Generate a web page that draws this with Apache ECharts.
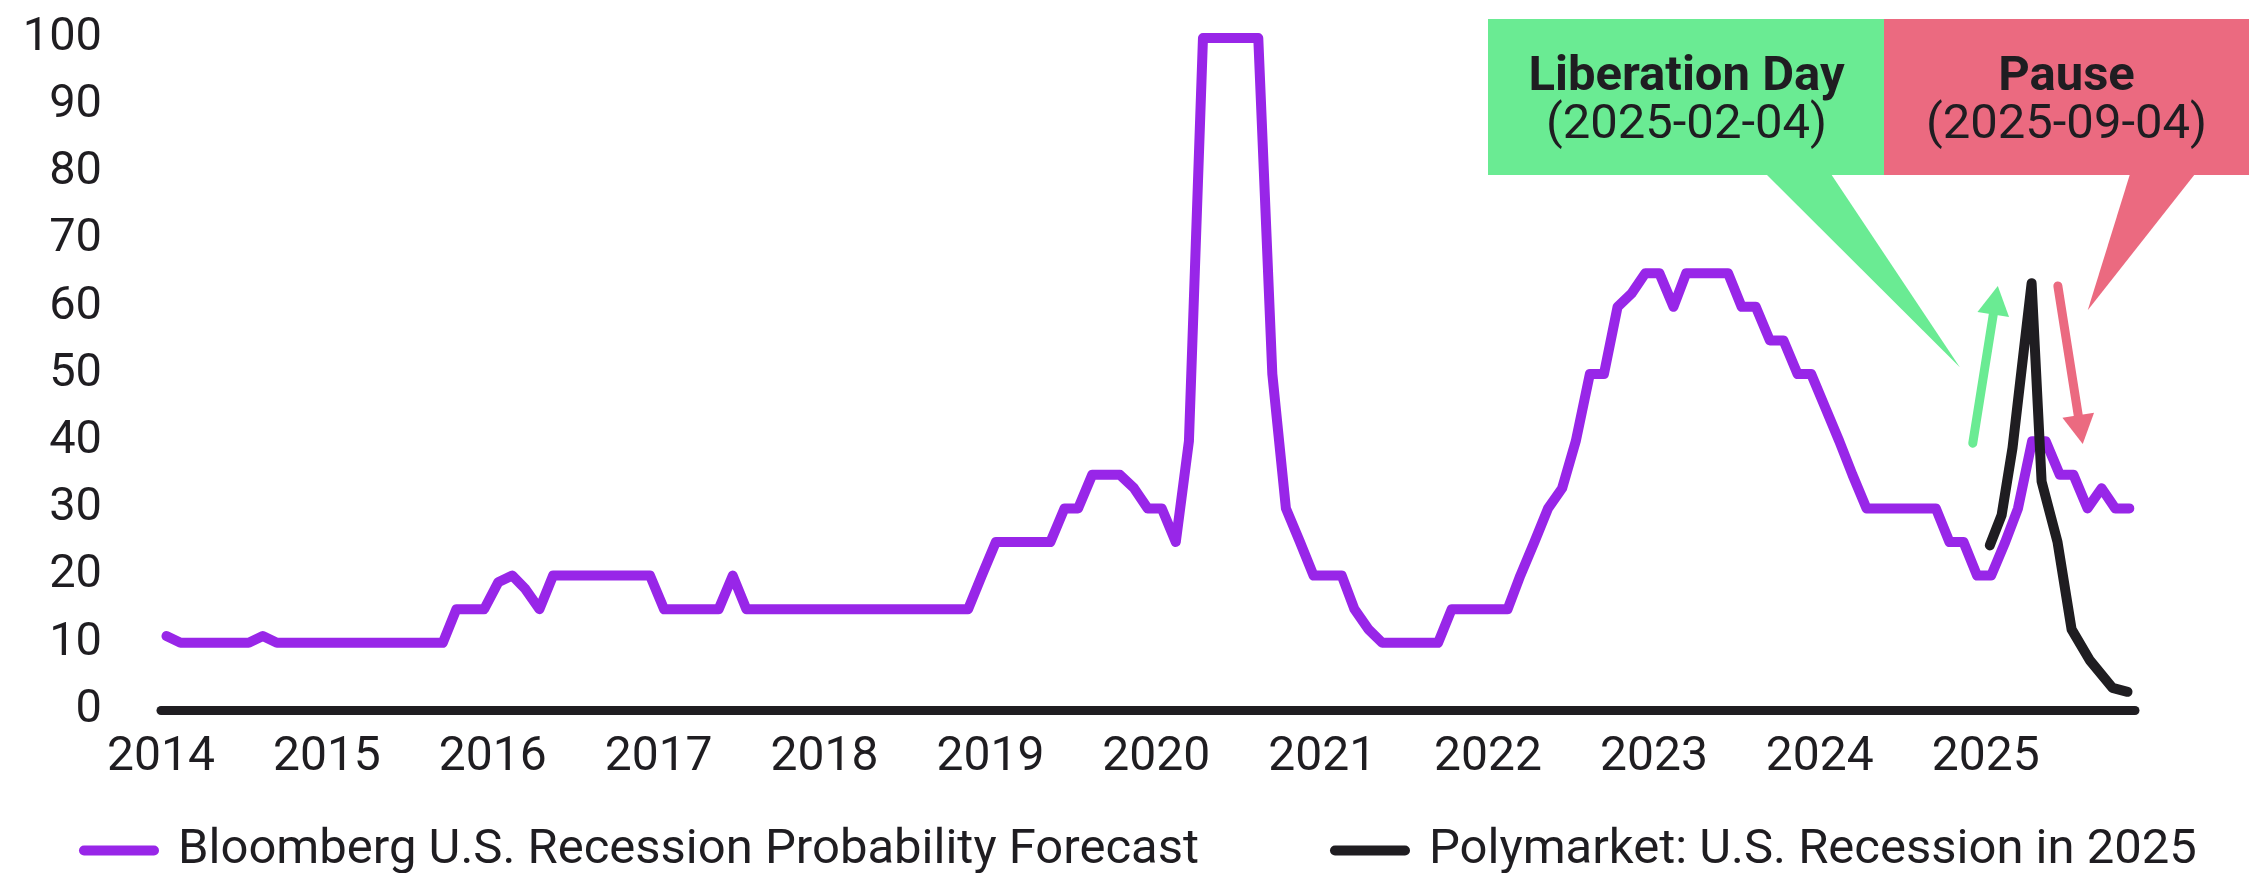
<!DOCTYPE html>
<html>
<head>
<meta charset="utf-8">
<script src="https://cdn.jsdelivr.net/npm/echarts@6/dist/echarts.min.js"></script>
<style>
  html, body { margin: 0; padding: 0; background: #fff; }
  #chart { width: 2249px; height: 873px; }
</style>
</head>
<body>
<div id="chart"></div>
<script>
// Bloomberg U.S. recession probability survey, monthly from Jan 2014 to Nov 2025
const bbgName = 'Bloomberg U.S. Recession Probability Forecast';
const bbgStart = [2014, 1];
const bbgValues = [
  11, 10, 10, 10, 10, 10, 10, 11, 10, 10, 10, 10,   // 2014
  10, 10, 10, 10, 10, 10, 10, 10, 10, 15, 15, 15,   // 2015
  19, 20, 18, 15, 20, 20, 20, 20, 20, 20, 20, 20,   // 2016
  15, 15, 15, 15, 15, 20, 15, 15, 15, 15, 15, 15,   // 2017
  15, 15, 15, 15, 15, 15, 15, 15, 15, 15, 15, 20,   // 2018
  25, 25, 25, 25, 25, 30, 30, 35, 35, 35, 33, 30,   // 2019
  30, 25, 40, 100, 100, 100, 100, 100, 50, 30, 25, 20, // 2020
  20, 20, 15, 12, 10, 10, 10, 10, 10, 15, 15, 15,   // 2021
  15, 15, 20, 25, 30, 33, 40, 50, 50, 60, 62, 65,   // 2022
  65, 60, 65, 65, 65, 65, 60, 60, 55, 55, 50, 50,   // 2023
  45, 40, 35, 30, 30, 30, 30, 30, 30, 25, 25, 20,   // 2024
  20, 25, 30, 40, 40, 35, 35, 30, 33, 30, 30        // 2025
];

// Polymarket: U.S. recession in 2025
const polyName = 'Polymarket: U.S. Recession in 2025';
const polyDates = ['2025-01-10', '2025-02-05', '2025-03-01', '2025-04-12', '2025-05-04',
                   '2025-06-08', '2025-07-09', '2025-08-18', '2025-10-07', '2025-11-09'];
const polyValues = [24.5, 29, 39, 63.5, 34, 25, 12, 7.4, 3.3, 2.7];

// axis extents (years, percent)
const xMin = 2014, xMax = 2025.9, xStep = 1;
const yMin = 0, yMax = 100, yStep = 10;

// annotation anchors, in data units [year, percent]
const upArrow = [[2024.922, 39.7], [2025.073, 63.1]];
const downArrow = [[2025.435, 63.1], [2025.585, 39.6]];
const libTip = [2024.844, 51.0];
const pauseTip = [2025.615, 59.5];

const PURPLE = '#9826e8';
const INK = '#1f1d21';
const GREEN = '#6aeb93';
const PINK = '#eb6a80';
const FONT = 'Roboto';

function toYear(dateStr) {
  const [y, m, d] = dateStr.split('-').map(Number);
  const t0 = Date.UTC(y, 0, 1), t1 = Date.UTC(y + 1, 0, 1);
  return y + (Date.UTC(y, m - 1, d) - t0) / (t1 - t0);
}

function monthDate(i) {
  const total = bbgStart[1] - 1 + i;
  const y = bbgStart[0] + Math.floor(total / 12);
  const m = (total % 12) + 1;
  return y + '-' + String(m).padStart(2, '0') + '-13';
}

const bbgData = bbgValues.map((v, i) => [toYear(monthDate(i)), v]);
const polyData = polyValues.map((v, i) => [toYear(polyDates[i]), v]);

const pill = 'path://M5,0 H75 A5,5 0 0 1 75,10 H5 A5,5 0 0 1 5,0 Z';

const chart = echarts.init(document.getElementById('chart'), null, { renderer: 'canvas' });

chart.setOption({
  animation: false,
  backgroundColor: '#fff',
  textStyle: { fontFamily: FONT, color: INK },
  grid: { left: 161, right: 114, top: 38, bottom: 163, containLabel: false },
  legend: [
    {
      data: [bbgName], left: 79, top: 826, padding: 0,
      icon: pill, itemWidth: 80, itemHeight: 11,
      textStyle: { fontSize: 49, color: INK, fontFamily: FONT, padding: [0, 0, 0, 14] }
    },
    {
      data: [polyName], left: 1330, top: 826, padding: 0,
      icon: pill, itemWidth: 80, itemHeight: 11,
      textStyle: { fontSize: 49, color: INK, fontFamily: FONT, padding: [0, 0, 0, 14] }
    }
  ],
  xAxis: {
    type: 'value', min: xMin, max: xMax, interval: xStep,
    axisLine: { show: true, onZero: false, lineStyle: { color: INK, width: 9 } },
    axisTick: { show: false },
    splitLine: { show: false },
    axisLabel: {
      fontSize: 48, color: INK, fontFamily: FONT, margin: 24,
      showMaxLabel: false,
      formatter: v => (Math.abs(v - Math.round(v)) < 1e-6 ? String(Math.round(v)) : '')
    }
  },
  yAxis: {
    type: 'value', min: yMin, max: yMax, interval: yStep,
    axisLine: { show: false },
    axisTick: { show: false },
    splitLine: { show: false },
    axisLabel: { fontSize: 47, color: INK, fontFamily: FONT, margin: 59 }
  },
  series: [
    {
      name: bbgName, type: 'line', data: bbgData, showSymbol: false,
      color: PURPLE,
      lineStyle: { color: PURPLE, width: 10, cap: 'round', join: 'round' },
      z: 2
    },
    {
      name: polyName, type: 'line', data: polyData, showSymbol: false,
      color: INK,
      lineStyle: { color: INK, width: 10, cap: 'round', join: 'round' },
      z: 3
    }
  ]
});

// callout boxes and arrows
function px(p) { return chart.convertToPixel({ gridIndex: 0 }, p); }

function arrow(from, to, color) {
  const a = px(from), b = px(to);
  const dx = b[0] - a[0], dy = b[1] - a[1], len = Math.hypot(dx, dy);
  const ux = dx / len, uy = dy / len, nx = -uy, ny = ux;
  const headLen = 29, headHalf = 16;
  const bx = b[0] - ux * headLen, by = b[1] - uy * headLen;
  return [
    { type: 'line', z: 10, shape: { x1: a[0], y1: a[1], x2: bx + ux * 2, y2: by + uy * 2 },
      style: { stroke: color, lineWidth: 9, lineCap: 'round' } },
    { type: 'polygon', z: 10,
      shape: { points: [[b[0], b[1]], [bx + nx * headHalf, by + ny * headHalf], [bx - nx * headHalf, by - ny * headHalf]] },
      style: { fill: color } }
  ];
}

function callout(box, baseX, tip, color, title, date) {
  const t = px(tip);
  const cx = box.x + box.w / 2;
  return [
    { type: 'rect', z: 10, shape: { x: box.x, y: box.y, width: box.w, height: box.h }, style: { fill: color } },
    { type: 'polygon', z: 10,
      shape: { points: [[baseX[0], box.y + box.h - 1], [baseX[1], box.y + box.h - 1], [t[0], t[1]]] },
      style: { fill: color } },
    { type: 'text', z: 11, x: cx, y: box.y + 59,
      style: { text: title, font: 'bold 49px ' + FONT, fill: INK, align: 'center', verticalAlign: 'middle' } },
    { type: 'text', z: 11, x: cx, y: box.y + 107,
      style: { text: date, font: '49px ' + FONT, fill: INK, align: 'center', verticalAlign: 'middle' } }
  ];
}

chart.setOption({
  graphic: [
    ...callout({ x: 1488, y: 19, w: 397, h: 156 }, [1766, 1831], libTip, GREEN, 'Liberation Day', '(2025-02-04)'),
    ...callout({ x: 1884, y: 19, w: 365, h: 156 }, [2130, 2195], pauseTip, PINK, 'Pause', '(2025-09-04)'),
    ...arrow(upArrow[0], upArrow[1], GREEN),
    ...arrow(downArrow[0], downArrow[1], PINK)
  ]
});
</script>
</body>
</html>
